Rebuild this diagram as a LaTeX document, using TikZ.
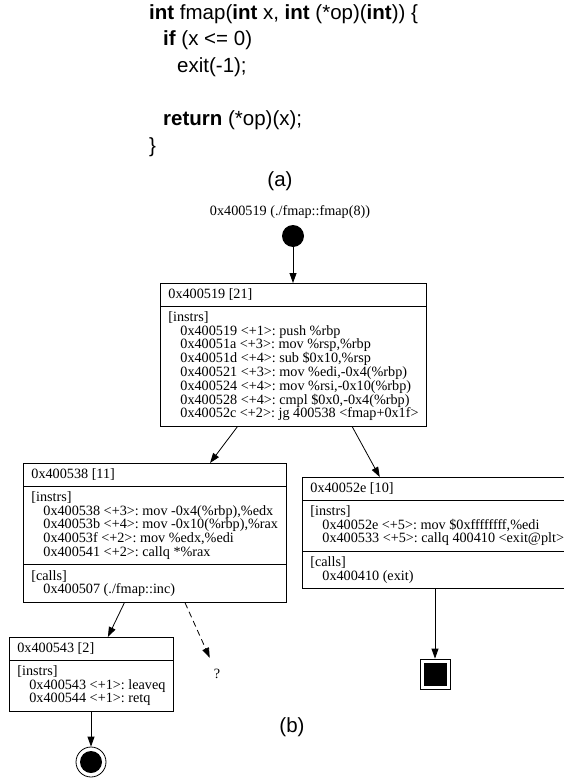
\documentclass[tikz,border=0pt]{standalone}
\usepackage{fontspec}
\setmainfont{Liberation Serif}
\newfontfamily\codefont{Liberation Sans}
\usetikzlibrary{shapes.multipart,arrows.meta,calc}

\tikzset{
  bblock/.style={
    rectangle split,
    rectangle split parts=#1,
    rectangle split part align=left,
    draw,
    line width=0.8pt,
    anchor=north west,
    align=left,
    inner xsep=8pt,
    inner ysep=5pt,
    font=\fontsize{14.2}{13.8}\selectfont\frenchspacing
  },
  cfgedge/.style={
    line width=0.8pt,
    -{Triangle[length=10pt,width=7pt]}
  },
  sublabel/.style={
    font=\codefont\fontsize{20.5}{24}\selectfont
  }
}
\newcommand{\ind}{\hspace*{12pt}}
\newcommand{\cind}{\hspace*{14pt}}

\begin{document}
\begin{tikzpicture}[x=1pt,y=-1pt]
  \useasboundingbox (0,0) rectangle (563,779);

  % Source code
  \node[
    anchor=north west,
    inner sep=0pt,
    align=left,
    font=\codefont\fontsize{20.5}{26.7}\selectfont
  ] (src) at (149,4) {%
    \textbf{int} fmap(\textbf{int} x, \textbf{int} (*op)(\textbf{int})) \{\\
    \cind\textbf{if} (x <= 0)\\
    \cind\cind exit(-1);\\[26.7pt]
    \cind\textbf{return} (*op)(x);\\
    \}};
  \node[sublabel] (capA) at (280,181) {(a)};

  % Entry point
  \node[font=\fontsize{14.2}{14}\selectfont] (entryLabel) at (290,212) {0x400519 (./fmap::fmap(8))};
  \node[
    circle,
    fill=black,
    inner sep=0pt,
    minimum size=22pt
  ] (entry) at (293,236) {};

  % Basic blocks
  \node[bblock=2, minimum width=264pt] (bbEntry) at (160,283) {%
    0x400519 [21]
    \nodepart{two}
    [instrs]\\
    \ind 0x400519 <+1>: push \%rbp\\
    \ind 0x40051a <+3>: mov \%rsp,\%rbp\\
    \ind 0x40051d <+4>: sub \$0x10,\%rsp\\
    \ind 0x400521 <+3>: mov \%edi,-0x4(\%rbp)\\
    \ind 0x400524 <+4>: mov \%rsi,-0x10(\%rbp)\\
    \ind 0x400528 <+4>: cmpl \$0x0,-0x4(\%rbp)\\
    \ind 0x40052c <+2>: jg 400538 <fmap+0x1f>};

  \node[bblock=3, minimum width=260pt] (bbCall) at (23,463) {%
    0x400538 [11]
    \nodepart{two}
    [instrs]\\
    \ind 0x400538 <+3>: mov -0x4(\%rbp),\%edx\\
    \ind 0x40053b <+4>: mov -0x10(\%rbp),\%rax\\
    \ind 0x40053f <+2>: mov \%edx,\%edi\\
    \ind 0x400541 <+2>: callq *\%rax
    \nodepart{three}
    [calls]\\
    \ind 0x400507 (./fmap::inc)};

  \node[bblock=3, minimum width=272pt] (bbExit) at (302,477) {%
    0x40052e [10]
    \nodepart{two}
    [instrs]\\
    \ind 0x40052e <+5>: mov \$0xffffffff,\%edi\\
    \ind 0x400533 <+5>: callq 400410 <exit@plt>
    \nodepart{three}
    [calls]\\
    \ind 0x400410 (exit)};

  \node[bblock=2, minimum width=163pt] (bbRet) at (9,637) {%
    0x400543 [2]
    \nodepart{two}
    [instrs]\\
    \ind 0x400543 <+1>: leaveq\\
    \ind 0x400544 <+1>: retq};

  % Unknown call target
  \node[
    inner sep=0pt,
    minimum size=32pt,
    font=\fontsize{14.2}{14}\selectfont
  ] (unknown) at (217,674) {?};

  % Exit (square) and return (circle)
  \node[
    draw,
    line width=0.8pt,
    minimum size=30pt
  ] (halt) at (435,674) {};
  \fill (halt.center) ++(-11.5,-11.5) rectangle ++(23,23);

  \node[
    circle,
    draw,
    line width=0.8pt,
    minimum size=30pt
  ] (done) at (91,762) {};
  \fill (done.center) circle[radius=11pt];

  \node[sublabel] (capB) at (292,727) {(b)};

  % Edges
  \draw[cfgedge] (entry) -- (bbEntry.north -| entry);
  \draw[cfgedge] ($(bbEntry.south west)!0.29!(bbEntry.south east)$)
    -- ($(bbCall.north west)!0.71!(bbCall.north east)$);
  \draw[cfgedge] ($(bbEntry.south west)!0.72!(bbEntry.south east)$)
    -- ($(bbExit.north west)!0.285!(bbExit.north east)$);
  \draw[cfgedge] ($(bbCall.south west)!0.385!(bbCall.south east)$)
    -- ($(bbRet.north west)!0.6!(bbRet.north east)$);
  \draw[cfgedge, dash pattern=on 6pt off 4pt] ($(bbCall.south west)!0.615!(bbCall.south east)$)
    -- (unknown);
  \draw[cfgedge] (bbExit.south -| halt) -- (halt);
  \draw[cfgedge] (bbRet.south -| done) -- (done);
\end{tikzpicture}
\end{document}
